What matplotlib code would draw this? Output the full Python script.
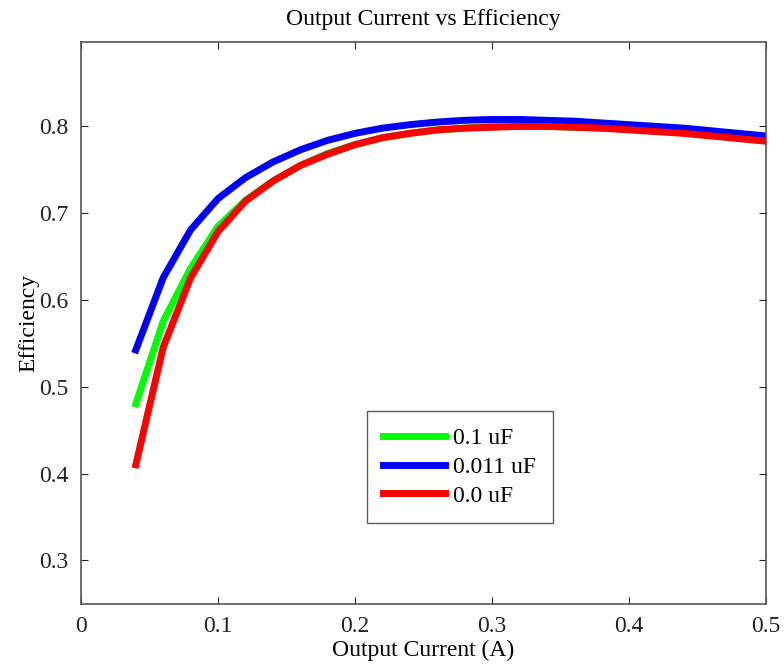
import matplotlib
matplotlib.use('Agg')
import matplotlib.pyplot as plt

plt.rcParams['font.family'] = ['Liberation Serif', 'DejaVu Serif']

# output current (A)
current = [0.04, 0.06, 0.08, 0.10, 0.12, 0.14, 0.16, 0.18, 0.20, 0.22, 0.24, 0.26,
           0.28, 0.30, 0.32, 0.34, 0.36, 0.38, 0.40, 0.42, 0.44, 0.46, 0.48, 0.50]

# efficiency for each capacitor value
eff_01 = [0.480, 0.575, 0.636, 0.684, 0.714, 0.736, 0.754, 0.768, 0.778, 0.786, 0.791, 0.795,
          0.797, 0.799, 0.799, 0.799, 0.798, 0.797, 0.796, 0.794, 0.792, 0.789, 0.786, 0.783]
eff_0011 = [0.542, 0.625, 0.680, 0.716, 0.740, 0.758, 0.772, 0.783, 0.791, 0.797, 0.801, 0.804,
            0.806, 0.807, 0.807, 0.806, 0.805, 0.803, 0.801, 0.799, 0.797, 0.794, 0.791, 0.788]
eff_00 = [0.410, 0.545, 0.625, 0.678, 0.713, 0.736, 0.754, 0.767, 0.778, 0.786, 0.791, 0.795,
          0.797, 0.798, 0.799, 0.799, 0.798, 0.797, 0.795, 0.793, 0.791, 0.788, 0.785, 0.782]

labels = ['0.1 uF', '0.011 uF', '0.0 uF']

fig = plt.figure(figsize=(7.84, 6.66), dpi=100)
ax = fig.add_axes([0.1033, 0.0931, 0.8737, 0.8438])

ax.plot(current, eff_01, color='#00ff00', lw=5, label=labels[0])
ax.plot(current, eff_0011, color='#0000ff', lw=5, label=labels[1])
ax.plot(current, eff_00, color='#ff0000', lw=5, label=labels[2])

ax.set_xlim(0, 0.5)
ax.set_ylim(0.25, 0.896)
ax.set_xticks([0, 0.1, 0.2, 0.3, 0.4, 0.5])
ax.set_xticklabels(['0', '0.1', '0.2', '0.3', '0.4', '0.5'])
ax.set_yticks([0.3, 0.4, 0.5, 0.6, 0.7, 0.8])
ax.set_yticklabels(['0.3', '0.4', '0.5', '0.6', '0.7', '0.8'])
ax.tick_params(direction='in', length=5, width=0.8, labelsize=17, colors='#222222',
               top=True, right=True, pad=9)
for s in ax.spines.values():
    s.set_color('#555555')
    s.set_linewidth(1.2)

ax.set_title('Output Current vs Efficiency', fontsize=17, pad=12)
ax.set_xlabel('Output Current (A)', fontsize=17, labelpad=2)
ax.set_ylabel('Efficiency', fontsize=17, labelpad=0)

leg = ax.legend(loc='lower left', bbox_to_anchor=(0.4175, 0.144), fontsize=17,
                frameon=True, fancybox=False, handlelength=2.6, handletextpad=0.35,
                borderpad=0.7, labelspacing=0.3, borderaxespad=0)
leg.get_frame().set_edgecolor('#333333')
leg.get_frame().set_linewidth(1.0)

fig.savefig('out.png', dpi=100)
